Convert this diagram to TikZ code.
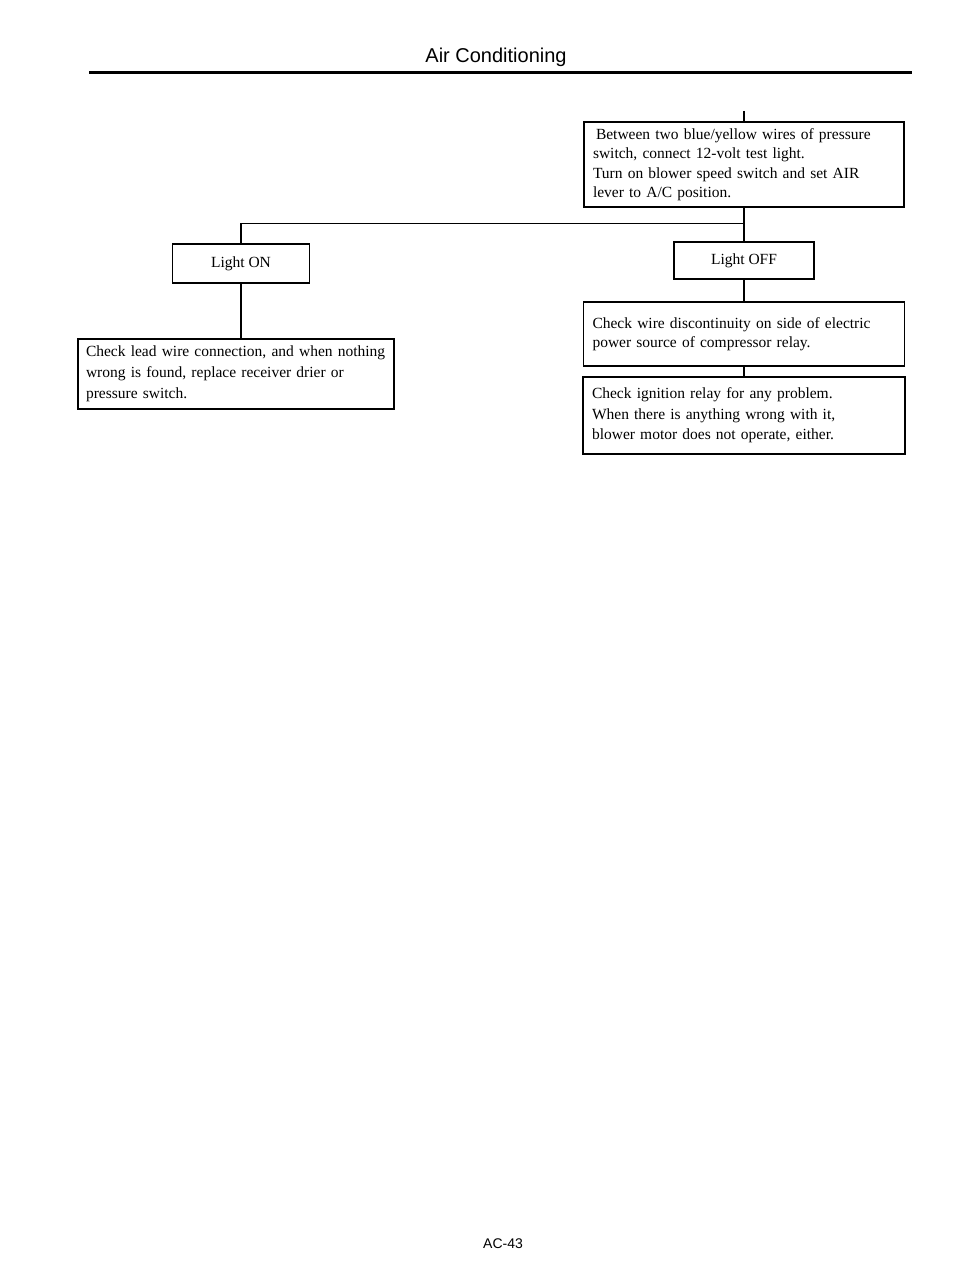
\documentclass[tikz,border=0pt]{standalone}
\usepackage{fontspec}
\setmainfont{Liberation Serif}
\newfontfamily\headfont{Liberation Sans}
\usepackage{tikz}
\usetikzlibrary{calc}

\tikzset{
	stepbox/.style={draw, line width=1.4pt, rectangle, inner xsep=9pt, inner ysep=0pt, align=left, font=\fontsize{15.5}{19.5}\selectfont},
	labelbox/.style={draw, line width=1.4pt, rectangle, inner sep=0pt, font=\fontsize{15.5}{19.5}\selectfont},
	link/.style={line width=1.4pt}
}

\begin{document}
\begin{tikzpicture}[x=1pt,y=-1pt]
	\useasboundingbox (0,0) rectangle (960,1273);
	\node[anchor=base, font=\headfont\fontsize{20}{24}\selectfont] (title) at (496,63) {Air Conditioning};
	\draw[line width=2.7pt] (89,72.5) -- (912,72.5);
	\node[stepbox, text width=302pt, minimum height=85pt] (ask) at (744,164.5) {\hspace*{3pt}Between two blue/yellow wires of pressure\\switch, connect 12-volt test light.\\Turn on blower speed switch and set AIR\\lever to A/C position.};
	\node[labelbox, minimum width=137pt, minimum height=39pt] (lighton) at (241,263.5) {Light ON};
	\node[labelbox, minimum width=140pt, minimum height=37pt] (lightoff) at (744,260.5) {Light OFF};
	\node[stepbox, inner xsep=6pt, text width=304pt, minimum height=70pt, font=\fontsize{15.5}{21}\selectfont] (lead) at (236,374) {\hspace*{2pt}Check lead wire connection, and when nothing\\\hspace*{2pt}wrong is found, replace receiver drier or\\\hspace*{2pt}pressure switch.};
	\node[stepbox, text width=303pt, minimum height=64pt] (wire) at (744,334) {Check wire discontinuity on side of electric\\power source of compressor relay.};
	\node[stepbox, text width=304pt, minimum height=77pt, font=\fontsize{15.5}{20.5}\selectfont] (relay) at (744,415.5) {Check ignition relay for any problem.\\When there is anything wrong with it,\\blower motor does not operate, either.};
	\coordinate (entry) at (744,111);
	\coordinate (split) at (744,223.5);
	\draw[link] (entry) -- (ask.north);
	\draw[link] (ask.south) -- (lightoff.north);
	\draw[link] (split) -| (lighton.north);
	\draw[link] (lighton.south) -- (lighton.south |- lead.north);
	\draw[link] (lightoff.south) -- (wire.north);
	\draw[link] (wire.south) -- (relay.north);
	\node[anchor=base, font=\headfont\fontsize{14}{16}\selectfont] (page) at (503,1248) {AC-43};
\end{tikzpicture}
\end{document}
